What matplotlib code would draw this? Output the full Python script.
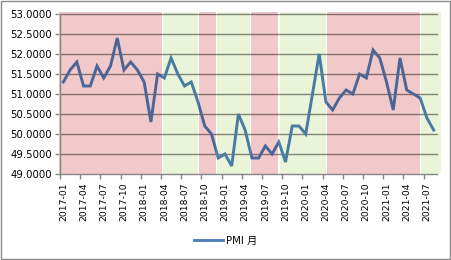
import numpy as np
import pandas as pd
import matplotlib
matplotlib.use("Agg")
import matplotlib.pyplot as plt
from matplotlib.patches import Rectangle
from matplotlib.lines import Line2D

# ---------------- data ----------------
months = [str(p) for p in pd.period_range("2017-01", "2021-08", freq="M")]
pmi = [51.3, 51.6, 51.8, 51.2, 51.2, 51.7, 51.4, 51.7, 52.4, 51.6, 51.8, 51.6,
       51.3, 50.3, 51.5, 51.4, 51.9, 51.5, 51.2, 51.3, 50.8, 50.2, 50.0, 49.4,
       49.5, 49.2, 50.5, 50.1, 49.4, 49.4, 49.7, 49.5, 49.8, 49.3, 50.2, 50.2,
       50.0, np.nan, 52.0, 50.8, 50.6, 50.9, 51.1, 51.0, 51.5, 51.4, 52.1, 51.9,
       51.3, 50.6, 51.9, 51.1, 51.0, 50.9, 50.4, 50.1]
series_name = "PMI 月"
# background regimes (edges in category units)
band_edges = [-0.65, 14.68, 20.14, 22.82, 27.87, 32.03, 39.13, 53.12, 56.04]
band_kind = ["r", "g", "r", "g", "r", "g", "r", "g"]
y_ticks = [49.0, 49.5, 50.0, 50.5, 51.0, 51.5, 52.0, 52.5, 53.0]

# ---------------- style ----------------
band_rgb = {"r": (242, 201, 202), "g": (233, 244, 217)}
line_rgb = (79, 129, 189)
grid_rgb = (140, 140, 140)
axis_col = "#868686"

def mult(a, b):
    return tuple(x * y / 255.0 / 255.0 for x, y in zip(a, b))

def rgb(a):
    return tuple(x / 255.0 for x in a)

W, H = 451, 260
fig = plt.figure(figsize=(W / 100, H / 100), dpi=100)
ax = fig.add_axes([60 / W, 1 - 174 / H, 377 / W, 160 / H])

x = np.arange(len(months))
vals = np.array(pmi, dtype=float)
ok = ~np.isnan(vals)
xv, yv = x[ok], vals[ok]

ax.set_xlim(-0.5, len(months) - 0.5)
ax.set_ylim(49, 53)

gap = 0.15
top = 53.06
# base gridlines (visible in gaps)
for yt in y_ticks[1:]:
    ax.axhline(yt, color=rgb(grid_rgb), lw=1.0, zorder=1)
# base line
ax.plot(xv, yv, color=rgb(line_rgb), lw=2.1, zorder=2, solid_joinstyle="miter")

for i, k in enumerate(band_kind):
    x0 = band_edges[i] + (gap / 2 if i > 0 else 0)
    x1 = band_edges[i + 1] - (gap / 2 if i < len(band_kind) - 1 else 0)
    b = band_rgb[k]
    rect = Rectangle((x0, 49), x1 - x0, top - 49, facecolor=rgb(b),
                     edgecolor="none", zorder=3, clip_on=False)
    ax.add_patch(rect)
    clip = Rectangle((x0, 48), x1 - x0, 6, transform=ax.transData)
    for yt in y_ticks[1:]:
        gl = ax.axhline(yt, color=mult(b, grid_rgb), lw=1.0, zorder=4)
        gl.set_clip_path(clip)
    ln, = ax.plot(xv, yv, color=mult(b, line_rgb), lw=2.1, zorder=5,
                  solid_joinstyle="miter")
    ln.set_clip_path(clip)

# axes styling
for s in ["top", "right"]:
    ax.spines[s].set_visible(False)
for s in ["left", "bottom"]:
    ax.spines[s].set_color(axis_col)
    ax.spines[s].set_linewidth(1.0)
    ax.spines[s].set_zorder(10)

ax.set_yticks(y_ticks)
ax.set_yticklabels([f"{v:.4f}" for v in y_ticks])
ax.tick_params(axis="y", direction="out", length=3.3, width=1.0, color=axis_col,
               pad=2.5, labelsize=7.3, labelcolor="black")

lab_pos = x[::3]
ax.set_xticks(lab_pos)
ax.set_xticklabels([months[i] for i in lab_pos], rotation=90, va="top", ha="center")
ax.set_xticks(np.arange(-0.5, len(months) - 0.5, 3), minor=True)
ax.tick_params(axis="x", which="major", length=0, pad=6, labelsize=6.7)
ax.tick_params(axis="x", which="minor", direction="out", length=3.3, width=1.0,
               color=axis_col)

handle = Line2D([], [], color=rgb(line_rgb), lw=2.1)
fig.legend([handle], [series_name], loc="center", bbox_to_anchor=(0.5, 1 - 241 / H),
           frameon=False, handlelength=2.8, handletextpad=0.3,
           prop={"family": ["DejaVu Sans", "Noto Sans CJK SC"], "size": 7.3})

# chart border
border = Rectangle((0.5 / W, 1.5 / H), (W - 2) / W, (H - 2.5) / H,
                   transform=fig.transFigure, fill=False, edgecolor="#8a8a8a", lw=1.0)
fig.patches.append(border)

fig.savefig("out.png", dpi=100)
